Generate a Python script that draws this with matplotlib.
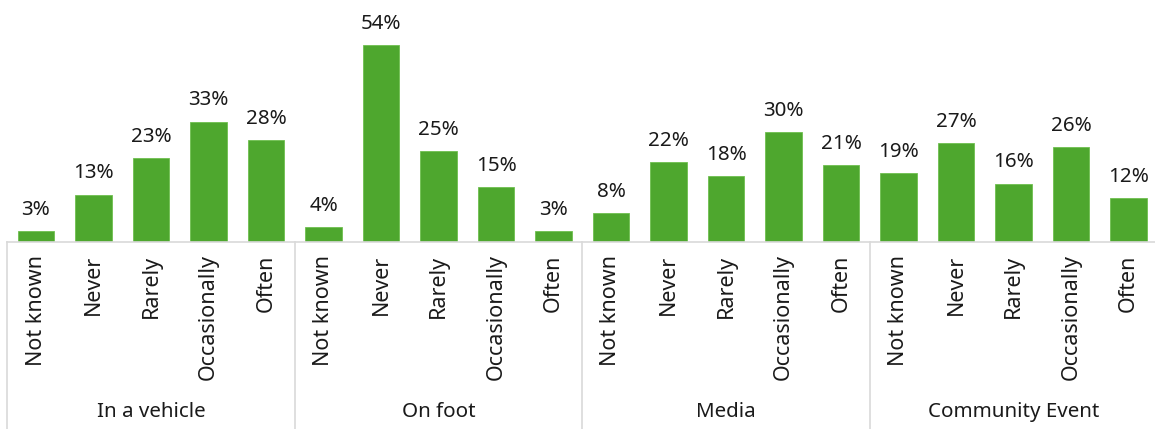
import matplotlib
matplotlib.use("Agg")
import matplotlib.pyplot as plt
import matplotlib.transforms as mtransforms

# Survey answers per channel
groups = ["In a vehicle", "On foot", "Media", "Community Event"]
answers = ["Not known", "Never", "Rarely", "Occasionally", "Often"]
vehicle = [3, 13, 23, 33, 28]
on_foot = [4, 54, 25, 15, 3]
media = [8, 22, 18, 30, 21]
community = [19, 27, 16, 26, 12]

plt.rcParams['font.family'] = ['Noto Sans', 'DejaVu Sans']
fs = 14.8
ink = "#1a1a1a"

values = vehicle + on_foot + media + community
labels = answers * len(groups)
xs = list(range(len(values)))

W, H = 1155, 429
fig = plt.figure(figsize=(W / 100, H / 100), dpi=100)
base = 242  # pixel row of the baseline
ax = fig.add_axes([7.25 / W, (H - base) / H, 1150 / W, base / H])

green = "#4EA72E"
grid = "#D9D9D9"
ax.bar(xs, values, width=0.64, color=green, edgecolor="#6FBF4F", linewidth=0.6)

for x, v in zip(xs, values):
    ax.annotate(f"{v}%", (x, v), xytext=(0, 8), textcoords="offset points",
                ha="center", va="bottom", fontsize=fs, color=ink)

ax.set_xlim(-0.5, len(values) - 0.5)
ax.set_ylim(0, 66.3)
ax.set_yticks([])
ax.set_xticks(xs)
ax.set_xticklabels(labels, rotation=90, fontsize=15.5, color=ink)
ax.tick_params(axis="x", length=0, pad=9)

for s in ["top", "right", "left"]:
    ax.spines[s].set_visible(False)
ax.spines["bottom"].set_color(grid)
ax.spines["bottom"].set_linewidth(1.2)

# vertical dividers between the channel groups
trans = mtransforms.blended_transform_factory(ax.transData, ax.transAxes)
low = -(H - base) / base
for i in range(len(groups) + 1):
    xd = i * len(answers) - 0.5
    ax.plot([xd, xd], [0, low], transform=trans, color=grid, lw=1.2,
            clip_on=False)

for i, g in enumerate(groups):
    xc = i * len(answers) + (len(answers) - 1) / 2
    ax.text(xc, -(412 - base) / base, g, transform=trans, ha="center",
            va="center", fontsize=fs, color=ink)

fig.savefig("out.png", dpi=100)
